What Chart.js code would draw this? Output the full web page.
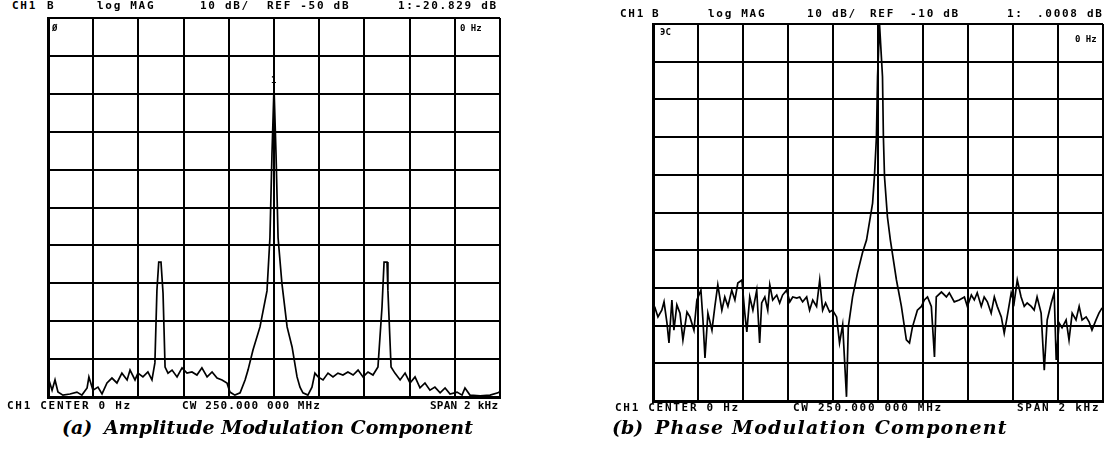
<!DOCTYPE html>
<html>
<head>
<meta charset="utf-8">
<script src="https://cdn.jsdelivr.net/npm/chart.js@4.4.1/dist/chart.umd.min.js"></script>
<style>
  body { margin: 0; background: #fff; width: 1104px; height: 461px; overflow: hidden; position: relative; }
  .box { position: absolute; }
  .t { position: absolute; font: bold 11px "DejaVu Sans Mono", monospace; letter-spacing: 1.7px; white-space: pre; color: #000; line-height: 11px; }
  .s { position: absolute; font: bold 9px "DejaVu Sans Mono", monospace; white-space: pre; color: #000; line-height: 9px; }
  .cap { position: absolute; font: italic bold 19px "DejaVu Serif", serif; white-space: pre; color: #000; line-height: 22px; }
</style>
</head>
<body>
<div class="box" style="left:40px;top:10px;width:468px;height:395px"><canvas id="amChart"></canvas></div>
<div class="box" style="left:645px;top:16px;width:459px;height:393px"><canvas id="pmChart"></canvas></div>

<!-- (a) header / footer -->
<div class="t" style="left:12px;top:0px">CH1</div>
<div class="t" style="left:47px;top:0px">B</div>
<div class="t" style="left:97px;top:0px">log MAG</div>
<div class="t" style="left:200px;top:0px">10 dB/</div>
<div class="t" style="left:267px;top:0px">REF -50 dB</div>
<div class="t" style="left:398px;top:0px">1:-20.829 dB</div>
<div class="s" style="left:52px;top:24px">Ø</div>
<div class="s" style="left:460px;top:24px">0 Hz</div>
<div class="s" style="left:271px;top:76px">1</div>
<div class="t" style="left:7px;top:400px">CH1 CENTER 0 Hz</div>
<div class="t" style="left:182px;top:400px;letter-spacing:1.1px">CW 250.000 000 MHz</div>
<div class="t" style="left:430px;top:400px;letter-spacing:0.2px">SPAN 2 kHz</div>
<div class="cap" style="left:62px;top:416px">(a)</div>
<div class="cap" style="left:104px;top:416px">Amplitude Modulation Component</div>

<!-- (b) header / footer -->
<div class="t" style="left:620px;top:8px">CH1</div>
<div class="t" style="left:652px;top:8px">B</div>
<div class="t" style="left:708px;top:8px">log MAG</div>
<div class="t" style="left:807px;top:8px">10 dB/</div>
<div class="t" style="left:870px;top:8px">REF</div>
<div class="t" style="left:910px;top:8px">-10 dB</div>
<div class="t" style="left:1007px;top:8px">1:</div>
<div class="t" style="left:1037px;top:8px">.0008 dB</div>
<div class="s" style="left:660px;top:28px">ЭС</div>
<div class="s" style="left:1075px;top:35px">0 Hz</div>
<div class="t" style="left:615px;top:402px">CH1 CENTER 0 Hz</div>
<div class="t" style="left:793px;top:402px">CW 250.000 000 MHz</div>
<div class="t" style="left:1017px;top:402px">SPAN 2 kHz</div>
<div class="cap" style="left:612px;top:416px">(b)</div>
<div class="cap" style="left:655px;top:416px;letter-spacing:1.2px">Phase Modulation Component</div>

<script>
// offset from carrier (Hz) and level (dB)
const amFreq = [
  -1000, -982, -969, -956, -934, -903, -872, -850, -827, -819,
  -801, -779, -761, -739, -717, -695, -673, -650, -637, -615,
  -602, -580, -558, -540, -527, -518, -510, -500, -491, -482,
  -469, -451, -429, -407, -385, -363, -341, -319, -296, -274,
  -252, -230, -208, -195, -173, -150, -128, -115, -93, -62,
  -31, -18, -9, 0, 9, 18, 35, 58, 80, 102,
  115, 128, 150, 168, 181, 195, 217, 239, 261, 283,
  305, 327, 350, 372, 394, 416, 438, 460, 478, 487,
  500, 504, 518, 535, 558, 580, 602, 624, 646, 668,
  690, 712, 735, 757, 779, 810, 832, 845, 867, 912,
  956, 991, 1000
];
const amLevel = [
  -144.7, -148.2, -145.5, -148.7, -149.5, -149.2, -148.7, -149.5, -147.6, -144.7,
  -148.2, -147.4, -149.2, -146.3, -145.0, -146.3, -143.7, -145.5, -142.9, -145.5,
  -143.7, -144.7, -143.4, -145.5, -141.0, -121.8, -114.4, -114.4, -122.6, -142.1,
  -143.7, -142.9, -144.7, -142.3, -143.7, -143.4, -144.2, -142.3, -144.7, -143.4,
  -145.0, -145.5, -146.3, -148.7, -149.5, -148.9, -145.5, -142.9, -137.6, -131.5,
  -122.0, -108.0, -86.0, -68.2, -86.0, -108.0, -120.0, -131.5, -136.8, -144.7,
  -147.4, -148.9, -149.5, -147.4, -143.7, -144.7, -145.5, -143.7, -144.7, -143.7,
  -144.2, -143.4, -144.2, -142.9, -144.7, -143.4, -144.2, -142.1, -126.2, -114.4,
  -114.4, -121.8, -142.1, -143.7, -145.5, -143.7, -146.3, -144.7, -147.6, -146.3,
  -148.2, -147.4, -148.9, -147.6, -149.2, -148.7, -149.5, -147.6, -149.5, -149.7,
  -149.5, -148.9, -148.5
];

const pmFreq = [
  -1000, -991, -978, -961, -951, -938, -929, -916, -907, -894,
  -880, -867, -849, -836, -818, -805, -787, -778, -769, -756,
  -738, -725, -712, -694, -681, -667, -650, -636, -623, -605,
  -592, -583, -570, -556, -539, -526, -517, -503, -490, -481,
  -468, -450, -437, -424, -406, -392, -379, -361, -348, -335,
  -317, -304, -290, -273, -259, -246, -233, -215, -202, -184,
  -171, -157, -140, -132, -113, -91, -69, -51, -24, -16,
  -7, -2, 7, 20, 24, 29, 42, 55, 82, 104,
  126, 140, 153, 175, 193, 206, 220, 237, 251, 259,
  282, 304, 317, 339, 361, 384, 397, 415, 428, 441,
  459, 472, 486, 503, 517, 530, 548, 561, 574, 592,
  605, 619, 636, 650, 663, 681, 694, 707, 725, 739,
  752, 770, 783, 792, 805, 818, 836, 849, 863, 880,
  894, 907, 925, 938, 951, 969, 982, 996
];
const pmLevel = [
  -125.9, -125.3, -127.7, -125.9, -123.7, -129.3, -134.6, -123.2, -131.2, -124.5,
  -126.7, -133.8, -126.4, -127.7, -131.2, -123.2, -120.6, -128.5, -138.6, -126.7,
  -131.2, -124.9, -119.2, -125.9, -122.4, -124.9, -120.6, -123.2, -118.7, -117.9,
  -126.7, -131.7, -122.4, -125.9, -120.6, -134.6, -124.0, -122.4, -125.9, -119.2,
  -123.2, -121.9, -124.0, -121.9, -120.6, -123.7, -122.4, -122.7, -122.4, -123.7,
  -122.4, -125.9, -123.2, -124.9, -117.9, -125.9, -124.0, -126.4, -125.9, -127.7,
  -134.6, -129.8, -148.9, -130.4, -122.4, -116.0, -110.7, -107.3, -97.5, -90.6,
  -80.0, -64.0, -50.3, -64.0, -80.0, -90.6, -101.2, -107.3, -117.9, -124.9,
  -133.8, -134.6, -130.4, -125.9, -124.9, -123.2, -122.4, -124.9, -138.3, -122.4,
  -121.1, -122.4, -121.3, -123.7, -123.2, -122.4, -124.9, -121.9, -123.2, -121.3,
  -124.9, -122.4, -123.7, -126.7, -122.4, -124.9, -127.7, -132.0, -127.7, -121.3,
  -124.0, -117.9, -122.4, -124.9, -124.0, -124.9, -125.9, -122.4, -126.7, -141.8,
  -128.5, -124.0, -121.3, -139.1, -129.3, -130.6, -128.5, -133.8, -126.7, -128.5,
  -124.9, -128.5, -127.7, -129.0, -131.2, -128.5, -126.7, -125.3
];

function makeChart(id, freq, level, pad) {
  const pts = freq.map((f, i) => ({ x: f, y: level[i] }));
  const axis = (min, max, step) => ({
    type: 'linear',
    min: min,
    max: max,
    ticks: { display: false, stepSize: step },
    grid: { color: '#000', lineWidth: 2, drawTicks: false },
    border: { color: '#000', width: 3 }
  });
  return new Chart(document.getElementById(id).getContext('2d'), {
    type: 'scatter',
    data: {
      datasets: [{
        data: pts,
        showLine: true,
        borderColor: '#000',
        borderWidth: 1.7,
        pointRadius: 0,
        tension: 0
      }]
    },
    options: {
      responsive: true,
      maintainAspectRatio: false,
      animation: false,
      layout: { padding: pad },
      plugins: { legend: { display: false }, tooltip: { enabled: false } },
      scales: {
        x: axis(-1000, 1000, 200),
        y: axis(-150, -50, 10)
      }
    }
  });
}

makeChart('amChart', amFreq, amLevel, { left: 8, right: 8, top: 8, bottom: 8 });
makeChart('pmChart', pmFreq, pmLevel, { left: 8, right: 1, top: 8, bottom: 8 });
</script>
</body>
</html>
